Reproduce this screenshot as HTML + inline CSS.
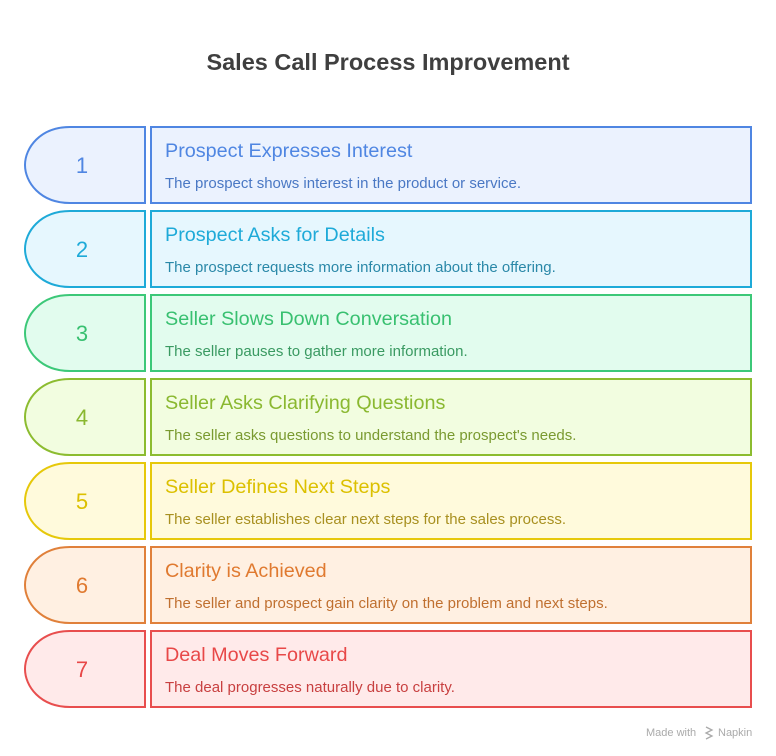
<!DOCTYPE html>
<html><head><meta charset="utf-8"><style>
body{margin:0;background:#fff}
svg{display:block}
text{font-family:"Liberation Sans",sans-serif}
</style></head><body>
<svg width="776" height="756" viewBox="0 0 776 756">
<text x="388" y="70" text-anchor="middle" font-size="23.5" font-weight="bold" fill="#3f3f3f">Sales Call Process Improvement</text>
<g stroke-width="2">
<g transform="translate(0,0)">
<path d="M145,127 L70,127 C40,127 25,148 25,165 C25,182 40,203 70,203 L145,203 Z" fill="#ebf2fe" stroke="#4f86e2"/>
<rect x="151" y="127" width="600" height="76" fill="#ebf2fe" stroke="#4f86e2"/>
<text x="82" y="173" text-anchor="middle" font-size="22" fill="#4f86e2" stroke="none">1</text>
<text x="165" y="157" font-size="19.8" fill="#4f86e2" stroke="none">Prospect Expresses Interest</text>
<text x="165" y="188" font-size="15" fill="#4a78c4" stroke="none">The prospect shows interest in the product or service.</text>
</g>
<g transform="translate(0,84)">
<path d="M145,127 L70,127 C40,127 25,148 25,165 C25,182 40,203 70,203 L145,203 Z" fill="#e6f7fe" stroke="#1eaad8"/>
<rect x="151" y="127" width="600" height="76" fill="#e6f7fe" stroke="#1eaad8"/>
<text x="82" y="173" text-anchor="middle" font-size="22" fill="#1eaad8" stroke="none">2</text>
<text x="165" y="157" font-size="19.8" fill="#1eaad8" stroke="none">Prospect Asks for Details</text>
<text x="165" y="188" font-size="15" fill="#2a88a8" stroke="none">The prospect requests more information about the offering.</text>
</g>
<g transform="translate(0,168)">
<path d="M145,127 L70,127 C40,127 25,148 25,165 C25,182 40,203 70,203 L145,203 Z" fill="#e2fcee" stroke="#3cc878"/>
<rect x="151" y="127" width="600" height="76" fill="#e2fcee" stroke="#3cc878"/>
<text x="82" y="173" text-anchor="middle" font-size="22" fill="#38c070" stroke="none">3</text>
<text x="165" y="157" font-size="19.8" fill="#38c070" stroke="none">Seller Slows Down Conversation</text>
<text x="165" y="188" font-size="15" fill="#3a9a62" stroke="none">The seller pauses to gather more information.</text>
</g>
<g transform="translate(0,252)">
<path d="M145,127 L70,127 C40,127 25,148 25,165 C25,182 40,203 70,203 L145,203 Z" fill="#f2fde0" stroke="#8cbc30"/>
<rect x="151" y="127" width="600" height="76" fill="#f2fde0" stroke="#8cbc30"/>
<text x="82" y="173" text-anchor="middle" font-size="22" fill="#8ab830" stroke="none">4</text>
<text x="165" y="157" font-size="19.8" fill="#8ab830" stroke="none">Seller Asks Clarifying Questions</text>
<text x="165" y="188" font-size="15" fill="#7a9a30" stroke="none">The seller asks questions to understand the prospect's needs.</text>
</g>
<g transform="translate(0,336)">
<path d="M145,127 L70,127 C40,127 25,148 25,165 C25,182 40,203 70,203 L145,203 Z" fill="#fffadc" stroke="#e6c80a"/>
<rect x="151" y="127" width="600" height="76" fill="#fffadc" stroke="#e6c80a"/>
<text x="82" y="173" text-anchor="middle" font-size="22" fill="#dcc000" stroke="none">5</text>
<text x="165" y="157" font-size="19.8" fill="#dcc000" stroke="none">Seller Defines Next Steps</text>
<text x="165" y="188" font-size="15" fill="#a89020" stroke="none">The seller establishes clear next steps for the sales process.</text>
</g>
<g transform="translate(0,420)">
<path d="M145,127 L70,127 C40,127 25,148 25,165 C25,182 40,203 70,203 L145,203 Z" fill="#fff0e2" stroke="#e0803a"/>
<rect x="151" y="127" width="600" height="76" fill="#fff0e2" stroke="#e0803a"/>
<text x="82" y="173" text-anchor="middle" font-size="22" fill="#e07a30" stroke="none">6</text>
<text x="165" y="157" font-size="19.8" fill="#e07a30" stroke="none">Clarity is Achieved</text>
<text x="165" y="188" font-size="15" fill="#c07030" stroke="none">The seller and prospect gain clarity on the problem and next steps.</text>
</g>
<g transform="translate(0,504)">
<path d="M145,127 L70,127 C40,127 25,148 25,165 C25,182 40,203 70,203 L145,203 Z" fill="#ffeaea" stroke="#e84e4e"/>
<rect x="151" y="127" width="600" height="76" fill="#ffeaea" stroke="#e84e4e"/>
<text x="82" y="173" text-anchor="middle" font-size="22" fill="#e84848" stroke="none">7</text>
<text x="165" y="157" font-size="19.8" fill="#e84848" stroke="none">Deal Moves Forward</text>
<text x="165" y="188" font-size="15" fill="#c84040" stroke="none">The deal progresses naturally due to clarity.</text>
</g>
</g>
<text x="646" y="736" font-size="11" fill="#aaa">Made with</text>
<path d="M706,727 l6,3 l-6,3 l6,3 l-6,3" fill="none" stroke="#aaa" stroke-width="1.3"/>
<text x="718" y="736" font-size="11" fill="#aaa">Napkin</text>
</svg>
</body></html>
